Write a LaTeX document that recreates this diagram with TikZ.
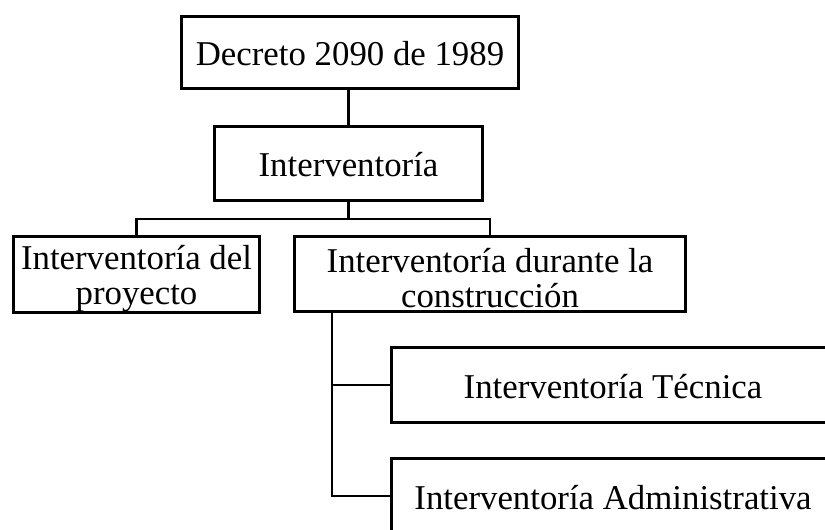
\documentclass[tikz,border=0pt]{standalone}
\usepackage{fontspec}
\setmainfont{Liberation Serif}
\begin{document}
\begin{tikzpicture}[x=0.75pt,y=-0.75pt,
  box/.style={draw, line width=2.4pt, inner sep=0pt, align=center,
    font=\fontsize{26.1pt}{26.25pt}\selectfont},
  onebox/.style={box, text height=23.5pt, text depth=4pt},
  conn/.style={line width=1.6pt}]
\useasboundingbox (0,0) rectangle (825,529);
\clip (0,0) rectangle (825,529);
\node[onebox, minimum width=337*0.75pt, minimum height=72*0.75pt] (b1) at (350,52.5) {Decreto 2090 de 1989};
\node[onebox, minimum width=268*0.75pt, minimum height=74*0.75pt] (b2) at (348.5,163.5) {Interventoría};
\node[box, minimum width=246*0.75pt, minimum height=76*0.75pt] (b3) at (136.5,274.5) {\rule{0pt}{0.93em}Interventoría del\\proyecto};
\node[box, minimum width=391*0.75pt, minimum height=75*0.75pt] (b4) at (490,274) {\rule{0pt}{0.93em}Interventoría durante la\\construcción};
\node[onebox, minimum width=443*0.75pt, minimum height=75*0.75pt] (b5) at (613,385) {Interventoría Técnica};
\node[onebox, minimum width=443*0.75pt, minimum height=75*0.75pt] (b6) at (613,496) {Interventoría Administrativa};
\coordinate (j) at (348.5,219);
\coordinate (v) at (332,313);
\draw[conn] (b2.north) -- (b2.north |- b1.south);
\draw[conn] (b2.south) -- (j);
\draw[conn] (b3.north) |- (j) -| (b4.north);
\draw[conn] (v) |- (b5.west);
\draw[conn] (v) |- (b6.west);
\end{tikzpicture}
\end{document}
